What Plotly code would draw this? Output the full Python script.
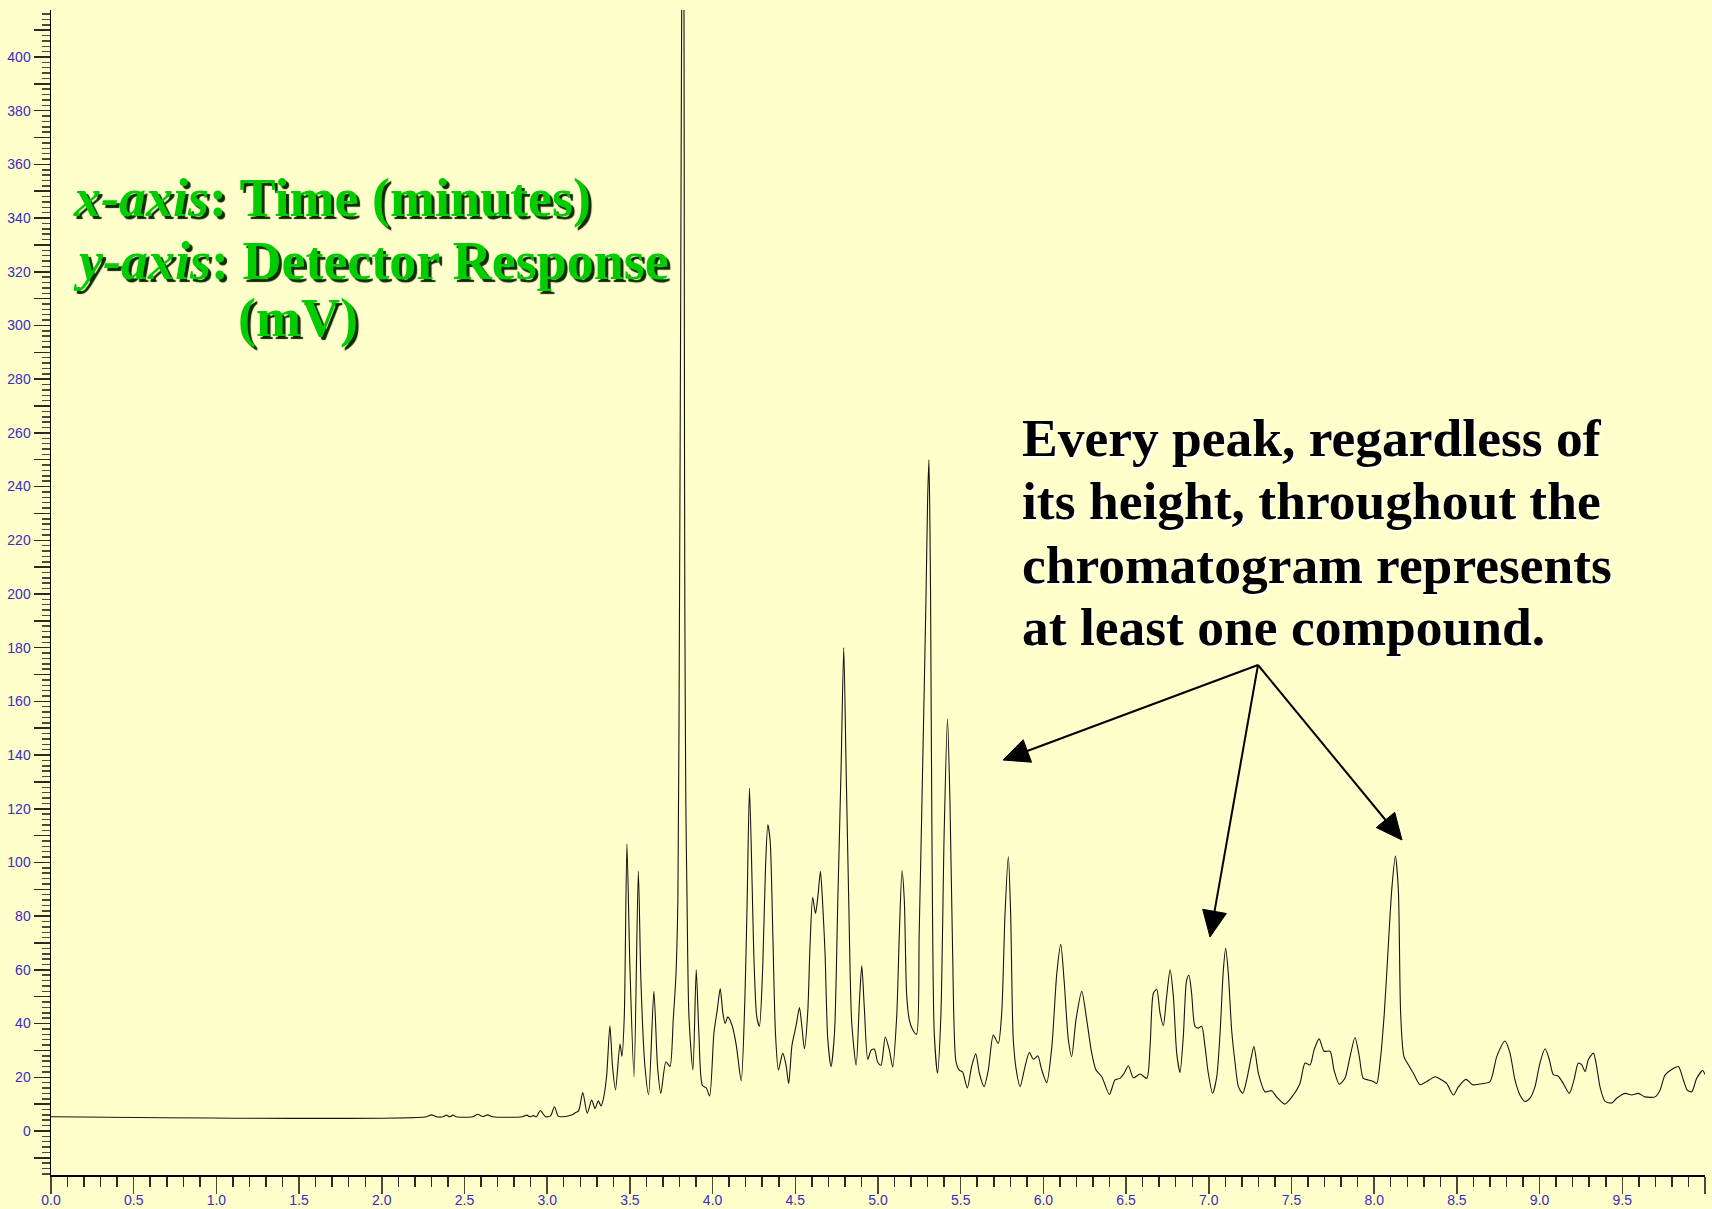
import math
import plotly.graph_objects as go

# ---------------- data ----------------
time_min = [
    0.0, 2.27, 2.30, 2.33, 2.37, 2.39, 2.41, 2.43, 2.45, 2.55, 2.58, 2.61, 2.64, 2.67,
    2.85, 2.877, 2.895, 2.917, 2.935, 2.958, 2.99, 3.02, 3.044, 3.065, 3.078, 3.12,
    3.15, 3.17, 3.19,
    3.215, 3.242, 3.269, 3.289, 3.309, 3.325, 3.339, 3.359, 3.379, 3.395, 3.413, 3.440,
    3.452, 3.466, 3.482, 3.500, 3.525, 3.551, 3.567, 3.591, 3.613, 3.645, 3.667, 3.687,
    3.718, 3.742, 3.762, 3.778, 3.790, 3.800, 3.807, 3.813, 3.820, 3.827, 3.829, 3.832,
    3.838, 3.845, 3.857, 3.881, 3.901, 3.917, 3.938, 3.962, 3.982, 4.008, 4.028, 4.046,
    4.062, 4.076, 4.092, 4.118, 4.143, 4.173, 4.195, 4.209, 4.223, 4.239, 4.249, 4.267,
    4.283, 4.303, 4.320, 4.334, 4.348, 4.364, 4.380, 4.398, 4.424, 4.444, 4.460, 4.480,
    4.505, 4.525, 4.539, 4.555, 4.575, 4.589, 4.605, 4.622, 4.636, 4.652, 4.666, 4.680,
    4.696, 4.716, 4.737, 4.757, 4.777, 4.793, 4.807, 4.823, 4.841, 4.868, 4.888, 4.902,
    4.918, 4.938, 4.958, 4.978, 4.998, 5.018, 5.044, 5.069, 5.089, 5.113, 5.129, 5.145,
    5.159, 5.173, 5.189, 5.209, 5.233, 5.249, 5.270, 5.290, 5.300, 5.308, 5.314, 5.318,
    5.326, 5.340, 5.360, 5.380, 5.400, 5.420, 5.435, 5.451, 5.471, 5.491, 5.511,
    5.540, 5.566, 5.591, 5.613, 5.641, 5.667, 5.697, 5.727, 5.748, 5.768, 5.788, 5.802,
    5.818, 5.839, 5.859, 5.889, 5.915, 5.940, 5.966, 5.990, 6.020, 6.051, 6.081, 6.105,
    6.125, 6.151, 6.171, 6.197, 6.232, 6.262, 6.292, 6.318, 6.353, 6.399, 6.433, 6.463,
    6.488, 6.514, 6.544, 6.585, 6.625, 6.645, 6.665, 6.685, 6.705, 6.725, 6.745, 6.766,
    6.786, 6.806, 6.826, 6.846, 6.866, 6.880, 6.896, 6.917, 6.937, 6.957, 6.977, 6.997,
    7.023, 7.048, 7.068, 7.088, 7.102, 7.118, 7.138, 7.159, 7.179, 7.205, 7.229, 7.255,
    7.273, 7.300, 7.340, 7.380, 7.410, 7.460, 7.511, 7.551, 7.582, 7.612, 7.637, 7.667,
    7.697, 7.733, 7.757, 7.789, 7.823, 7.854, 7.884, 7.910, 7.934, 7.965, 7.995, 8.015,
    8.035, 8.061, 8.085, 8.106, 8.128, 8.146, 8.160, 8.180, 8.213, 8.237, 8.277, 8.317,
    8.368, 8.408, 8.438, 8.479, 8.509, 8.555, 8.595, 8.640, 8.700, 8.741, 8.791, 8.821,
    8.851, 8.881, 8.912, 8.942, 8.972, 9.002, 9.033, 9.059, 9.083, 9.113, 9.143, 9.180,
    9.208, 9.234, 9.255, 9.275, 9.295, 9.325, 9.345, 9.365, 9.396, 9.436, 9.466, 9.517,
    9.557, 9.597, 9.637, 9.698, 9.728, 9.758, 9.799, 9.839, 9.869, 9.893, 9.920, 9.950,
    9.986, 10.0,
]
response_mv = [
    5.3, 5.3, 6.0, 5.3, 5.3, 5.9, 5.3, 5.9, 5.3, 5.3, 6.2, 5.4, 6.0, 5.3,
    5.3, 5.9, 5.3, 5.7, 5.3, 7.6, 5.3, 5.6, 9.0, 5.6, 5.3, 5.5,
    6.0, 6.8, 7.5,
    14.3, 6.6, 11.5, 8.4, 11.2, 9.3, 11.8, 20.3, 39.2, 24, 15.3, 32.4,
    27.8, 42.6, 106.9, 61.3, 20.1, 96.7, 55, 24, 13.5, 52, 24, 14,
    25.8, 24, 41.5, 57.6, 86, 198, 309, 417, 480, 417, 309, 198,
    123, 88.5, 42.6, 22.7, 60, 36.5, 17, 16, 13, 36.5, 45, 53,
    44, 40, 42.5, 39.3, 32, 18.7, 48.7, 86, 127.6, 92, 66, 42.6,
    39, 61, 98.5, 114, 108, 73.5, 36.5, 22.7, 29, 24.5, 17.7, 32,
    39.3, 46, 39.3, 30.6, 44, 69, 87, 81, 87, 96.7, 84, 66,
    34.6, 23.9, 36.5, 86, 135.7, 180, 135.7, 86, 40.5, 24.5, 48.7, 61.6,
    45, 26.7, 30, 30.5, 25.6, 24.5, 35, 30, 23.8, 42.6, 73.5, 97,
    86, 51, 41.5, 37.8, 36, 73.5, 135.7, 198, 235, 250, 225, 198,
    111, 36.5, 21.5, 42.6, 111, 153.5, 123, 67, 26, 22.7, 22,
    16, 24, 28.7, 21.5, 16.5, 22.7, 35.7, 32.6, 44, 81, 102.2, 81,
    33.9, 21.5, 16.5, 24, 29.2, 26.7, 28, 22.7, 18, 31.4, 58.7, 69.5,
    56.2, 33.9, 27.7, 41.4, 52, 41.4, 29, 22.7, 20.2, 13.6, 19, 19.6,
    21.5, 24.3, 19.8, 21.2, 19.6, 31.4, 51.3, 52.8, 44, 39.2, 50, 60,
    50, 29, 21.8, 35.3, 56.2, 58, 51.3, 38.9, 38.3, 39, 31.4, 21.5,
    14, 20.2, 36.4, 60, 68, 58.7, 37.7, 25.3, 16.5, 14, 19, 27,
    31.4, 21.5, 14.6, 15, 12.7, 10, 13.4, 17.7, 25.3, 24.6, 30.3, 34.3,
    29.7, 29.7, 22.7, 17.4, 19.6, 27.7, 34.8, 27.7, 19.6, 19, 18.4, 17.7,
    25.3, 43.8, 68.7, 89.8, 102.4, 89.8, 43.8, 27.7, 24, 21.5, 17.2, 18.4,
    20.2, 19, 17.7, 13.4, 16.4, 19.2, 17.2, 17.5, 18.4, 27.7, 33.5, 29,
    19, 13.4, 11, 12.2, 16.4, 25.3, 30.6, 26.6, 21, 20.4, 17.7, 14,
    19, 25.3, 24.6, 22.1, 26.6, 29, 24, 16.5, 11, 10.4, 12.2, 14,
    13.4, 14, 12.7, 12.7, 15.2, 20.8, 22.9, 24, 19, 15.2, 14.6, 19.6,
    22.5, 21,
]

x_tick_values = [i * 0.5 for i in range(21)]
x_tick_labels = [f"{v:.1f}" for v in x_tick_values[:-1]] + [""]
y_tick_values = list(range(-10, 411, 10))
y_tick_labels = [str(v) if v % 20 == 0 and v >= 0 else "" for v in y_tick_values]

green_lines = ["<i>x-axis</i>: Time (minutes)", "<i>y-axis</i>: Detector Response", "(mV)"]
note_lines = ["Every peak, regardless of", "its height, throughout the",
              "chromatogram represents", "at least one compound."]

# ---------------- layout geometry ----------------
W, H = 1712, 1209
ML, MR, MT, MB = 51, 7, 10, 34
PW, PH = W - ML - MR, H - MT - MB


def paper(px, py):
    return (px - ML) / PW, (H - MB - py) / PH


BG = "#FFFFCC"
TICK_FONT = dict(family="Liberation Sans, Arial, sans-serif", size=14, color="#3a2cc0")

fig = go.Figure()
fig.add_trace(go.Scatter(
    x=time_min, y=response_mv, mode="lines",
    line=dict(color="#151510", width=1.1, shape="spline", smoothing=0.7),
    hoverinfo="skip", showlegend=False,
))

annotations = []
green_pos = [(71, 197.5), (71, 260.5), (236, 317.5)]
for txt, (px, py) in zip(green_lines, green_pos):
    xp, yp = paper(px, py)
    annotations.append(dict(
        text=f"<b>{txt}</b>", x=xp, y=yp, xref="paper", yref="paper",
        xanchor="left", yanchor="middle", showarrow=False,
        font=dict(family="Liberation Serif, Times New Roman, serif", size=54,
                  color="#00CC00", shadow="3px 3px 1px #0a2a00"),
    ))

note_pos = [(1020, 437.5), (1020, 500.5), (1020, 564.5), (1020, 627.5)]
for txt, (px, py) in zip(note_lines, note_pos):
    xp, yp = paper(px, py)
    annotations.append(dict(
        text=f"<b>{txt}</b>", x=xp, y=yp, xref="paper", yref="paper",
        xanchor="left", yanchor="middle", showarrow=False,
        font=dict(family="Liberation Serif, Times New Roman, serif", size=53.5,
                  color="#000000", shadow="2px 2px 1px #ffffff"),
    ))

# arrows (annotation geometry, pixel positions)
origin = (1258, 665)
tips = [(1003, 760), (1210, 937), (1402, 840)]
shapes = []
HEAD_L, HEAD_W = 26, 12
for tx, ty in tips:
    dx, dy = tx - origin[0], ty - origin[1]
    n = math.hypot(dx, dy)
    ux, uy = dx / n, dy / n
    bx, by = tx - HEAD_L * ux, ty - HEAD_L * uy
    px_, py_ = -uy, ux
    c1 = (bx + HEAD_W * px_, by + HEAD_W * py_)
    c2 = (bx - HEAD_W * px_, by - HEAD_W * py_)
    o = paper(*origin)
    b = paper(bx + 3 * ux, by + 3 * uy)
    shapes.append(dict(type="line", xref="paper", yref="paper",
                       x0=o[0], y0=o[1], x1=b[0], y1=b[1],
                       line=dict(color="#000000", width=2)))
    t_ = paper(tx, ty)
    p1 = paper(*c1)
    p2 = paper(*c2)
    shapes.append(dict(type="path", xref="paper", yref="paper",
                       path=f"M {t_[0]},{t_[1]} L {p1[0]},{p1[1]} L {p2[0]},{p2[1]} Z",
                       fillcolor="#000000", line=dict(color="#000000", width=1)))

fig.update_layout(
    width=W, height=H,
    margin=dict(l=ML, r=MR, t=MT, b=MB, pad=0, autoexpand=False),
    paper_bgcolor=BG, plot_bgcolor=BG,
    showlegend=False,
    annotations=annotations,
    shapes=shapes,
    xaxis=dict(
        range=[0, 10], showgrid=False, zeroline=False, automargin=False,
        showline=True, linecolor="#000000", linewidth=1.5,
        tickmode="array", tickvals=x_tick_values, ticktext=x_tick_labels,
        ticks="outside", ticklen=17, tickwidth=1.5, tickcolor="#4a4a3a",
        tickfont=TICK_FONT, ticklabelstandoff=-5,
        minor=dict(tickmode="linear", tick0=0, dtick=0.1, ticks="outside",
                   ticklen=10, tickwidth=1.5, tickcolor="#2a2a20", showgrid=False),
    ),
    yaxis=dict(
        range=[-16.4, 417.5], showgrid=False, zeroline=False, automargin=False,
        showline=True, linecolor="#000000", linewidth=1.5,
        tickmode="array", tickvals=y_tick_values, ticktext=y_tick_labels,
        ticks="outside", ticklen=16, tickwidth=1.5, tickcolor="#2a2a20",
        tickfont=TICK_FONT,
        minor=dict(tickmode="linear", tick0=0, dtick=2, ticks="outside",
                   ticklen=8, tickwidth=1.5, tickcolor="#4a4a3a", showgrid=False),
    ),
)

page_fix = (
    "document.body.style.margin='0';"
    "document.body.style.padding='0';"
    "document.body.style.overflow='hidden';"
    "document.body.style.background='#FFFFCC';"
)

fig.write_html("out.html", post_script=page_fix,
               config={"displayModeBar": False, "staticPlot": True})
